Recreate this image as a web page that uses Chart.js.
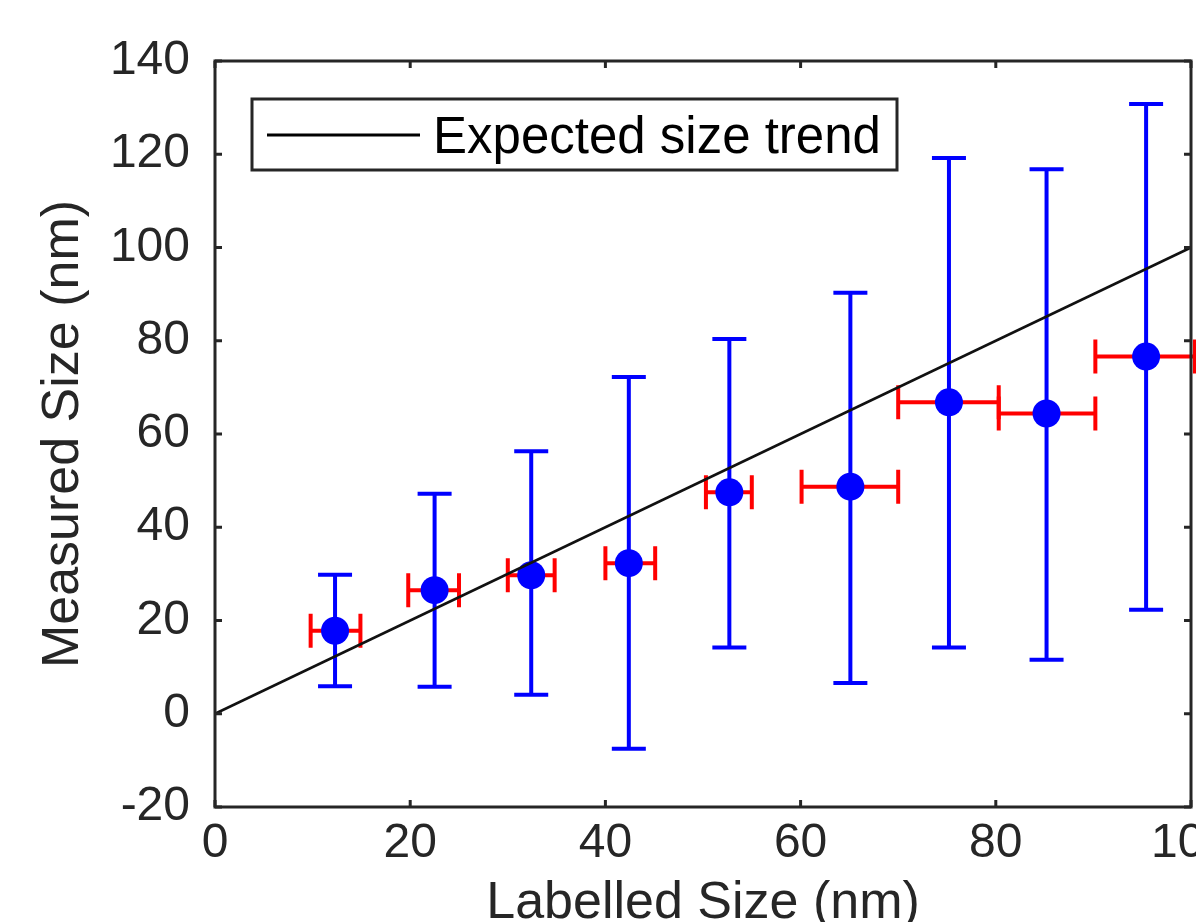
<!DOCTYPE html>
<html><head><meta charset="utf-8">
<script src="https://cdn.jsdelivr.net/npm/chart.js@4.4.0/dist/chart.umd.min.js"></script>
<style>html,body{margin:0;padding:0;background:#fff;overflow:hidden}#wrap{width:1196px;height:922px;position:relative}</style>
</head><body><div id="wrap"><canvas id="c"></canvas></div>
<script>
// ---- data ----
const labelledSize = [12.3, 22.5, 32.4, 42.4, 52.7, 65.1, 75.2, 85.2, 95.4];
const measuredSize = [17.8, 26.5, 29.7, 32.3, 47.5, 48.7, 66.8, 64.4, 76.6];
const measuredLow  = [5.9, 5.8, 4.1, -7.5, 14.2, 6.6, 14.2, 11.6, 22.3];
const measuredHigh = [29.8, 47.2, 56.3, 72.2, 80.4, 90.3, 119.2, 116.8, 130.8];
const labelledLow  = [9.8, 19.8, 30.0, 40.0, 50.3, 60.1, 70.0, 80.3, 90.2];
const labelledHigh = [14.9, 25.0, 34.8, 45.1, 55.0, 70.0, 80.3, 90.2, 100.4];
const trendX = [0, 100];
const trendY = [0, 100];
const xTickValues = [0, 20, 40, 60, 80, 100];
const yTickValues = [-20, 0, 20, 40, 60, 80, 100, 120, 140];
const legendLabel = 'Expected size trend';
const xTitle = 'Labelled Size (nm)';
const yTitle = 'Measured Size (nm)';

const AX = '#262626';
const FONT = "'Liberation Sans', Arial, Helvetica, sans-serif";

const errorBars = {
  id: 'errorBars',
  beforeDatasetsDraw(chart) {
    const {ctx, scales: {x, y}} = chart;
    ctx.save();
    ctx.lineWidth = 4;
    ctx.lineCap = 'butt';
    const cap = 17;
    // vertical (blue)
    ctx.strokeStyle = '#0000ff';
    for (let i = 0; i < labelledSize.length; i++) {
      const px = x.getPixelForValue(labelledSize[i]);
      const y1 = y.getPixelForValue(measuredLow[i]);
      const y2 = y.getPixelForValue(measuredHigh[i]);
      ctx.beginPath();
      ctx.moveTo(px, y1); ctx.lineTo(px, y2);
      ctx.moveTo(px - cap, y1); ctx.lineTo(px + cap, y1);
      ctx.moveTo(px - cap, y2); ctx.lineTo(px + cap, y2);
      ctx.stroke();
    }
    // horizontal (red)
    ctx.strokeStyle = '#ff0000';
    for (let i = 0; i < labelledSize.length; i++) {
      const py = y.getPixelForValue(measuredSize[i]);
      const x1 = x.getPixelForValue(labelledLow[i]);
      const x2 = x.getPixelForValue(labelledHigh[i]);
      ctx.beginPath();
      ctx.moveTo(x1, py); ctx.lineTo(x2, py);
      ctx.moveTo(x1, py - cap); ctx.lineTo(x1, py + cap);
      ctx.moveTo(x2, py - cap); ctx.lineTo(x2, py + cap);
      ctx.stroke();
    }
    ctx.restore();
  }
};

const frame = {
  id: 'frame',
  afterDraw(chart) {
    const {ctx, chartArea: a, scales: {x, y}} = chart;
    ctx.save();
    ctx.strokeStyle = AX;
    ctx.lineWidth = 3;
    ctx.strokeRect(a.left, a.top, a.right - a.left, a.bottom - a.top);
    const tl = 7;
    ctx.beginPath();
    xTickValues.forEach(v => {
      const px = x.getPixelForValue(v);
      ctx.moveTo(px, a.bottom); ctx.lineTo(px, a.bottom - tl);
      ctx.moveTo(px, a.top); ctx.lineTo(px, a.top + tl);
    });
    yTickValues.forEach(v => {
      const py = y.getPixelForValue(v);
      ctx.moveTo(a.left, py); ctx.lineTo(a.left + tl, py);
      ctx.moveTo(a.right, py); ctx.lineTo(a.right - tl, py);
    });
    ctx.stroke();
    // legend box
    const bx = 252, by = 99, bw = 645, bh = 71;
    ctx.fillStyle = '#fff';
    ctx.fillRect(bx, by, bw, bh);
    ctx.strokeStyle = AX;
    ctx.lineWidth = 3;
    ctx.strokeRect(bx, by, bw, bh);
    ctx.strokeStyle = '#000';
    ctx.lineWidth = 3;
    ctx.beginPath();
    ctx.moveTo(267, 135); ctx.lineTo(420, 135);
    ctx.stroke();
    ctx.fillStyle = '#000';
    ctx.font = '51px ' + FONT;
    ctx.textBaseline = 'alphabetic';
    ctx.textAlign = 'left';
    ctx.fillText(chart.data.datasets[0].label, 433, 153);
    ctx.restore();
  }
};

new Chart(document.getElementById('c'), {
  type: 'scatter',
  data: {
    datasets: [
      {
        label: legendLabel,
        type: 'line',
        data: trendX.map((v, i) => ({x: v, y: trendY[i]})),
        borderColor: '#111',
        borderWidth: 2.5,
        pointRadius: 0,
        fill: false,
        order: 0
      },
      {
        label: 'Measured',
        data: labelledSize.map((v, i) => ({x: v, y: measuredSize[i]})),
        backgroundColor: '#0000ff',
        borderColor: '#0000ff',
        pointRadius: 14,
        borderWidth: 0,
        order: 1,
        clip: false
      }
    ]
  },
  plugins: [errorBars, frame],
  options: {
    responsive: true,
    maintainAspectRatio: false,
    animation: false,
    devicePixelRatio: 1,
    layout: {autoPadding: false, padding: {left: 0, top: 61, right: 5, bottom: 0}},
    plugins: {legend: {display: false}, tooltip: {enabled: false}},
    scales: {
      x: {
        type: 'linear', min: 0, max: 100,
        afterBuildTicks: s => { s.ticks = xTickValues.map(v => ({value: v})); },
        afterFit: s => { s.height = 115; s.paddingLeft = 0; s.paddingRight = 0; },
        grid: {display: false, drawTicks: false},
        border: {display: false},
        ticks: {color: AX, font: {family: FONT, size: 48}, padding: 8, maxRotation: 0, autoSkip: false,
                callback: v => String(v)},
        title: {display: true, text: xTitle, color: AX, font: {family: FONT, size: 52, lineHeight: 0.7}, padding: 0}
      },
      y: {
        type: 'linear', min: -20, max: 140,
        afterBuildTicks: s => { s.ticks = yTickValues.map(v => ({value: v})); },
        afterFit: s => { s.width = 215; s.paddingTop = 0; s.paddingBottom = 0; },
        grid: {display: false, drawTicks: false},
        border: {display: false},
        ticks: {color: AX, font: {family: FONT, size: 48}, padding: 25, autoSkip: false,
                callback: v => String(v)},
        title: {display: true, text: yTitle, color: AX, font: {family: FONT, size: 52, lineHeight: 1.2}, padding: {top: 32, bottom: 0}}
      }
    }
  }
});
</script></body></html>
